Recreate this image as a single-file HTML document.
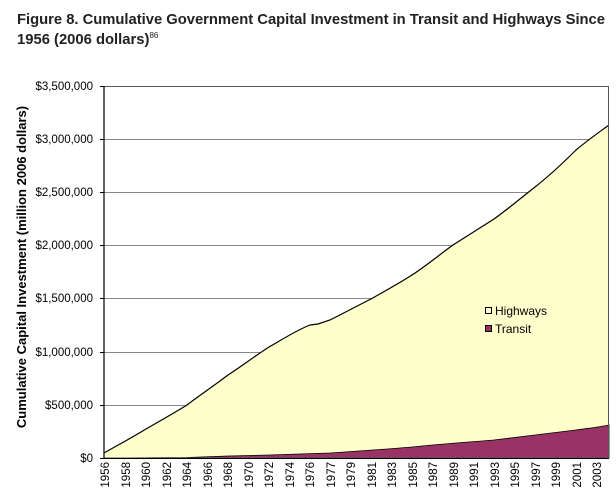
<!DOCTYPE html>
<html><head><style>
body{margin:0;background:#fff;width:616px;height:498px;overflow:hidden}
svg{display:block}
</style></head><body>
<svg width="616" height="498" xmlns="http://www.w3.org/2000/svg" font-family="Liberation Sans, sans-serif">
<text x="17" y="24" font-size="14.8" font-weight="bold" fill="#222" textLength="588">Figure 8. Cumulative Government Capital Investment in Transit and Highways Since</text>
<text x="17" y="44" font-size="14.8" font-weight="bold" fill="#222">1956 (2006 dollars)<tspan font-size="8" dy="-6" font-weight="normal">86</tspan></text>
<g stroke="#888" stroke-width="1">
<line x1="104" y1="86.5" x2="609" y2="86.5"/><line x1="104" y1="139.5" x2="609" y2="139.5"/><line x1="104" y1="192.5" x2="609" y2="192.5"/><line x1="104" y1="245.5" x2="609" y2="245.5"/><line x1="104" y1="298.5" x2="609" y2="298.5"/><line x1="104" y1="352.5" x2="609" y2="352.5"/><line x1="104" y1="405.5" x2="609" y2="405.5"/>
</g>
<path d="M104,453 C118,445 133,437 146,429 C160,421 174,413 187,405 C200,395 215,385 228,375 C242,366 255,356 269,347 C283,339 297,330 310,325 L318,324 L330,320 C344,313 357,306 371,299 C385,291 398,284 412,275 C426,266 439,255 453,245 C467,236 480,228 494,219 C508,209 521,198 535,187 C549,176 563,163 576,150 C588,140 598,133 609,125 L609,458 L104,458 Z" fill="#ffffcc" stroke="none"/>
<path d="M104,453 C118,445 133,437 146,429 C160,421 174,413 187,405 C200,395 215,385 228,375 C242,366 255,356 269,347 C283,339 297,330 310,325 L318,324 L330,320 C344,313 357,306 371,299 C385,291 398,284 412,275 C426,266 439,255 453,245 C467,236 480,228 494,219 C508,209 521,198 535,187 C549,176 563,163 576,150 C588,140 598,133 609,125" fill="none" stroke="#000" stroke-width="1.2"/>
<path d="M104,458 L187,457.5 L228,456 L269,455 L330,453 C360,451 390,449 412,447 C440,444 470,442 494,440 C520,437 550,433 576,430 C590,428 600,427 609,425 L609,458 Z" fill="#993366" stroke="#000" stroke-width="0.8"/>
<rect x="104" y="86.5" width="504.5" height="371.5" fill="none" stroke="#555" stroke-width="1"/>
<line x1="104" y1="86" x2="104" y2="459" stroke="#000" stroke-width="1.2"/>
<line x1="104" y1="458.5" x2="609" y2="458.5" stroke="#000"/>
<g font-size="11.5" fill="#000" text-anchor="end">
<text x="93" y="90">$3,500,000</text><text x="93" y="143">$3,000,000</text><text x="93" y="196">$2,500,000</text><text x="93" y="249">$2,000,000</text><text x="93" y="302">$1,500,000</text><text x="93" y="356">$1,000,000</text><text x="93" y="409">$500,000</text><text x="93" y="462">$0</text>
</g>
<g stroke="#000"><line x1="100" y1="86.5" x2="104" y2="86.5"/><line x1="100" y1="139.5" x2="104" y2="139.5"/><line x1="100" y1="192.5" x2="104" y2="192.5"/><line x1="100" y1="245.5" x2="104" y2="245.5"/><line x1="100" y1="298.5" x2="104" y2="298.5"/><line x1="100" y1="352.5" x2="104" y2="352.5"/><line x1="100" y1="405.5" x2="104" y2="405.5"/><line x1="100" y1="458.5" x2="104" y2="458.5"/></g>
<text transform="translate(26,267) rotate(-90)" font-size="13" font-weight="bold" text-anchor="middle">Cumulative Capital Investment (million 2006 dollars)</text>
<g font-size="11.5" fill="#000" text-anchor="end">
<text transform="translate(109,462) rotate(-90)">1956</text>
<text transform="translate(130,462) rotate(-90)">1958</text>
<text transform="translate(150,462) rotate(-90)">1960</text>
<text transform="translate(171,462) rotate(-90)">1962</text>
<text transform="translate(191,462) rotate(-90)">1964</text>
<text transform="translate(212,462) rotate(-90)">1966</text>
<text transform="translate(232,462) rotate(-90)">1968</text>
<text transform="translate(253,462) rotate(-90)">1970</text>
<text transform="translate(273,462) rotate(-90)">1972</text>
<text transform="translate(294,462) rotate(-90)">1974</text>
<text transform="translate(314,462) rotate(-90)">1976</text>
<text transform="translate(335,462) rotate(-90)">1977</text>
<text transform="translate(355,462) rotate(-90)">1979</text>
<text transform="translate(376,462) rotate(-90)">1981</text>
<text transform="translate(396,462) rotate(-90)">1983</text>
<text transform="translate(417,462) rotate(-90)">1985</text>
<text transform="translate(437,462) rotate(-90)">1987</text>
<text transform="translate(458,462) rotate(-90)">1989</text>
<text transform="translate(478,462) rotate(-90)">1991</text>
<text transform="translate(499,462) rotate(-90)">1993</text>
<text transform="translate(519,462) rotate(-90)">1995</text>
<text transform="translate(540,462) rotate(-90)">1997</text>
<text transform="translate(560,462) rotate(-90)">1999</text>
<text transform="translate(581,462) rotate(-90)">2001</text>
<text transform="translate(601,462) rotate(-90)">2003</text>
</g>
<rect x="477" y="300" width="82" height="40" fill="#ffffcc"/>
<rect x="485.5" y="307.5" width="6" height="6" fill="#ffffcc" stroke="#000"/>
<text x="495" y="315" font-size="12">Highways</text>
<rect x="485.5" y="325.5" width="6" height="6" fill="#993366" stroke="#000"/>
<text x="495" y="333" font-size="12">Transit</text>
</svg>
</body></html>
